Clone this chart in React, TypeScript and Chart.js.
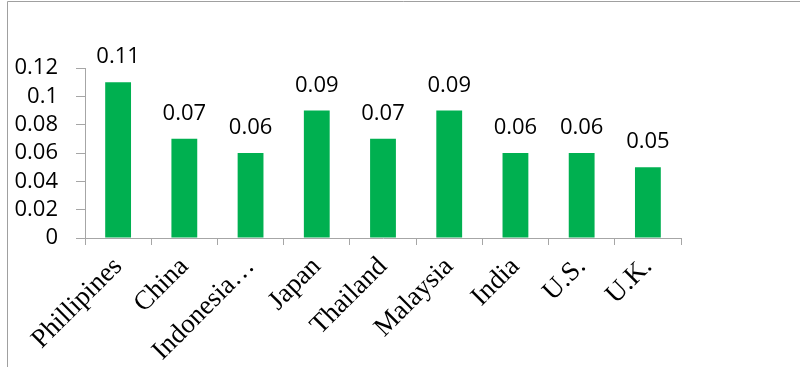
import React, { useEffect, useRef } from "react";
import { Chart, registerables } from "chart.js";

Chart.register(...registerables);

const categories = ["Phillipines", "China", "Indonesia…", "Japan", "Thailand", "Malaysia", "India", "U.S.", "U.K."];
const values = [0.11, 0.07, 0.06, 0.09, 0.07, 0.09, 0.06, 0.06, 0.05];
const valueLabels = ["0.11", "0.07", "0.06", "0.09", "0.07", "0.09", "0.06", "0.06", "0.05"];
const yTickValues = [0, 0.02, 0.04, 0.06, 0.08, 0.1, 0.12];
const yTickLabels = ["0", "0.02", "0.04", "0.06", "0.08", "0.1", "0.12"];

const SANS = "'Open Sans', 'Liberation Sans', sans-serif";
const SERIF = "'Liberation Serif', 'Times New Roman', serif";

const framePlugin = {
  id: "frame",
  beforeDraw(chart: any) {
    const ctx = chart.ctx;
    ctx.save();
    ctx.strokeStyle = "#a0a0a0";
    ctx.lineWidth = 1;
    ctx.beginPath();
    ctx.moveTo(7.5, 367);
    ctx.lineTo(7.5, 1.5);
    ctx.lineTo(800, 1.5);
    ctx.stroke();
    ctx.restore();
  },
};

const labelPlugin = {
  id: "valueLabels",
  afterDatasetsDraw(chart: any) {
    const ctx = chart.ctx;
    const meta = chart.getDatasetMeta(0);
    ctx.save();
    ctx.font = `22px ${SANS}`;
    ctx.fillStyle = "#000";
    ctx.textAlign = "center";
    ctx.textBaseline = "alphabetic";
    meta.data.forEach((bar: any, i: number) => {
      ctx.fillText(valueLabels[i], bar.x, bar.y - 19);
    });
    ctx.restore();
  },
};

export default function App() {
  const ref = useRef<HTMLCanvasElement>(null);
  useEffect(() => {
    if (!ref.current) return;
    const chart = new Chart(ref.current, {
      type: "bar",
      data: {
        labels: categories,
        datasets: [
          {
            data: values,
            backgroundColor: "#00B050",
            borderWidth: 0,
            barPercentage: 0.39,
            categoryPercentage: 1,
          },
        ],
      },
      options: {
        responsive: false,
        animation: false,
        devicePixelRatio: 1,
        layout: { padding: { top: 68, right: 119, left: 0, bottom: 0 } },
        plugins: { legend: { display: false }, tooltip: { enabled: false } },
        scales: {
          x: {
            offset: true,
            grid: {
              offset: true,
              drawOnChartArea: false,
              drawTicks: true,
              tickLength: 7,
              color: "#a6a6a6",
            },
            border: { color: "#a6a6a6" },
            ticks: {
              minRotation: 45,
              maxRotation: 45,
              autoSkip: false,
              padding: 6,
              color: "#000",
              font: { family: SERIF, size: 27 },
            },
            afterFit(scale: any) {
              scale.height = 129;
            },
          },
          y: {
            min: 0,
            max: 0.12,
            afterBuildTicks(scale: any) {
              scale.ticks = yTickValues.map((v) => ({ value: v }));
            },
            grid: {
              drawOnChartArea: false,
              drawTicks: true,
              tickLength: 9,
              color: "#a6a6a6",
            },
            border: { color: "#a6a6a6" },
            ticks: {
              autoSkip: false,
              padding: 18,
              color: "#000",
              font: { family: SANS, size: 22 },
              callback: (_v: any, i: number) => yTickLabels[i],
            },
            afterFit(scale: any) {
              scale.width = 85;
            },
          },
        },
      },
      plugins: [framePlugin, labelPlugin],
    });
    return () => chart.destroy();
  }, []);
  return (
    <canvas
      ref={ref}
      width={800}
      height={367}
      style={{ position: "absolute", left: 0, top: 0, width: 800, height: 367, display: "block" }}
    />
  );
}
